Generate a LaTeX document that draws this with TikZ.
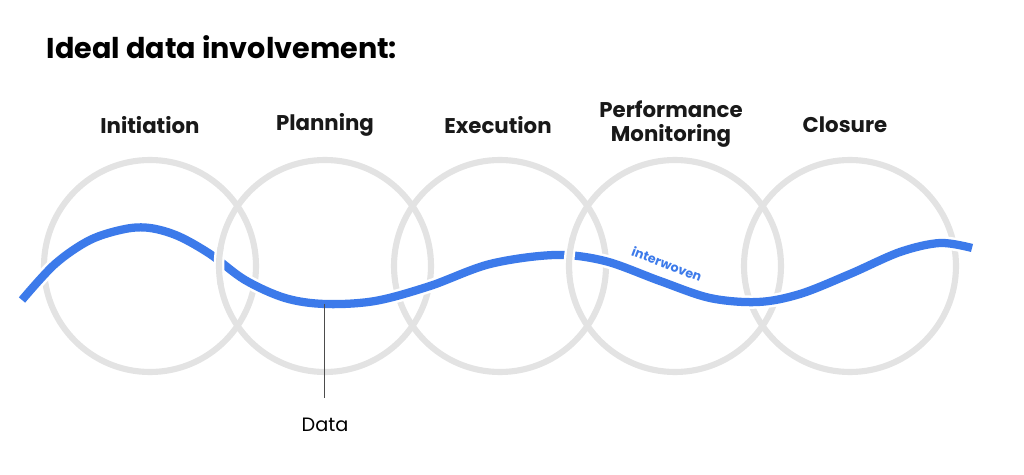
\documentclass[tikz,border=0pt]{standalone}
\usepackage{fontspec}
\setmainfont{Poppins}
\definecolor{ringgray}{HTML}{E3E3E3}
\definecolor{waveblue}{HTML}{3C7AEA}
\tikzset{
  ring/.style={draw=ringgray, line width=4.6pt},
  phase/.style={font=\bfseries\fontsize{16}{18.5}\selectfont, align=center, text=black!90},
  wave/.style={draw=waveblue, line width=6.2pt},
}
\begin{document}
\begin{tikzpicture}[x=0.0264cm, y=-0.0264cm]
\useasboundingbox (0,0) rectangle (1024,475);
\node[anchor=west, font=\bfseries\fontsize{21.5}{24}\selectfont] (title) at (42,47) {Ideal data involvement:};
% phases
\node[phase] (init) at (150,125) {Initiation};
\node[phase] (plan) at (325,125) {Planning};
\node[phase] (exec) at (498,125) {Execution};
\node[phase] (perf) at (671,124) {Performance\\Monitoring};
\node[phase] (clos) at (845,125) {Closure};
% rings
\foreach \cx in {150,325,500,675,850}
  \draw[ring] (\cx,266) circle (106);
% the data line
\def\wavepath{plot[smooth, tension=0.55] coordinates {(22,300) (55,264) (90,240) (125,229) (150,228) (178,236) (210,254) (245,280) (285,298) (325,304) (375,301) (430,286) (490,264) (555,255) (605,261) (660,281) (710,298) (758,302) (800,294) (850,274) (900,252) (940,243) (972,248)}}
\draw[white, line width=10pt] \wavepath;
\draw[wave] \wavepath;
% rings over the line
\draw[white, line width=8pt] (325,266) ++(172:106) arc (172:188:106);
\draw[ring] (325,266) ++(170:106) arc (170:190:106);
\draw[white, line width=8pt] (675,266) ++(178:106) arc (178:194:106);
\draw[ring] (675,266) ++(176:106) arc (176:196:106);
\node[rotate=-21, text=waveblue, font=\bfseries\fontsize{9.5}{11}\selectfont] (weave) at (667,264) {interwoven};
\coordinate (low) at (324,304);
\node[font=\fontsize{14.5}{17}\selectfont] (data) at (325,425) {Data};
\draw[black!70, line width=0.6pt] (low) -- (324,398);
\end{tikzpicture}
\end{document}
